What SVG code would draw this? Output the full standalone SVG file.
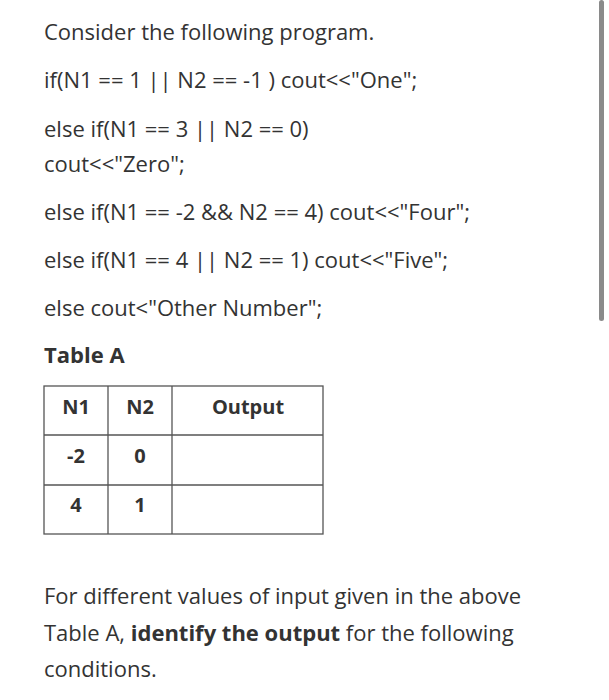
<svg xmlns="http://www.w3.org/2000/svg" width="609" height="700" viewBox="0 0 609 700">
<style>
text{font-family:"Open Sans","Liberation Sans",sans-serif;font-size:22px;fill:#333}
.b{font-weight:bold}
.c{text-anchor:middle;font-size:20px;font-weight:bold}
line{stroke:#555;stroke-width:1.3}
</style>
<rect width="609" height="700" fill="#fff"/>
<rect x="599" y="0" width="5" height="321" rx="2.5" fill="#8a8a8a"/>
<text x="44" y="40">Consider the following program.</text>
<text x="44" y="88">if(N1 == 1 || N2 == -1 ) cout&lt;&lt;"One";</text>
<text x="44" y="137">else if(N1 == 3 || N2 == 0)</text>
<text x="44" y="172">cout&lt;&lt;"Zero";</text>
<text x="44" y="220">else if(N1 == -2 &amp;&amp; N2 == 4) cout&lt;&lt;"Four";</text>
<text x="44" y="268">else if(N1 == 4 || N2 == 1) cout&lt;&lt;"Five";</text>
<text x="44" y="316">else cout&lt;"Other Number";</text>
<text x="44" y="363" class="b">Table A</text>
<g id="table">
<rect x="44" y="386" width="279" height="148" fill="none" stroke="#555" stroke-width="1.3"/>
<line x1="44" y1="435" x2="323" y2="435"/>
<line x1="44" y1="485" x2="323" y2="485"/>
<line x1="108" y1="386" x2="108" y2="534"/>
<line x1="172" y1="386" x2="172" y2="534"/>
<text x="76" y="414" class="c">N1</text>
<text x="140" y="414" class="c">N2</text>
<text x="248" y="414" class="c">Output</text>
<text x="76" y="463" class="c">-2</text>
<text x="140" y="463" class="c">0</text>
<text x="76" y="512" class="c">4</text>
<text x="140" y="512" class="c">1</text>
</g>
<text x="44" y="604">For different values of input given in the above</text>
<text x="44" y="641">Table A, <tspan class="b">identify the output</tspan> for the following</text>
<text x="44" y="677">conditions.</text>
</svg>
